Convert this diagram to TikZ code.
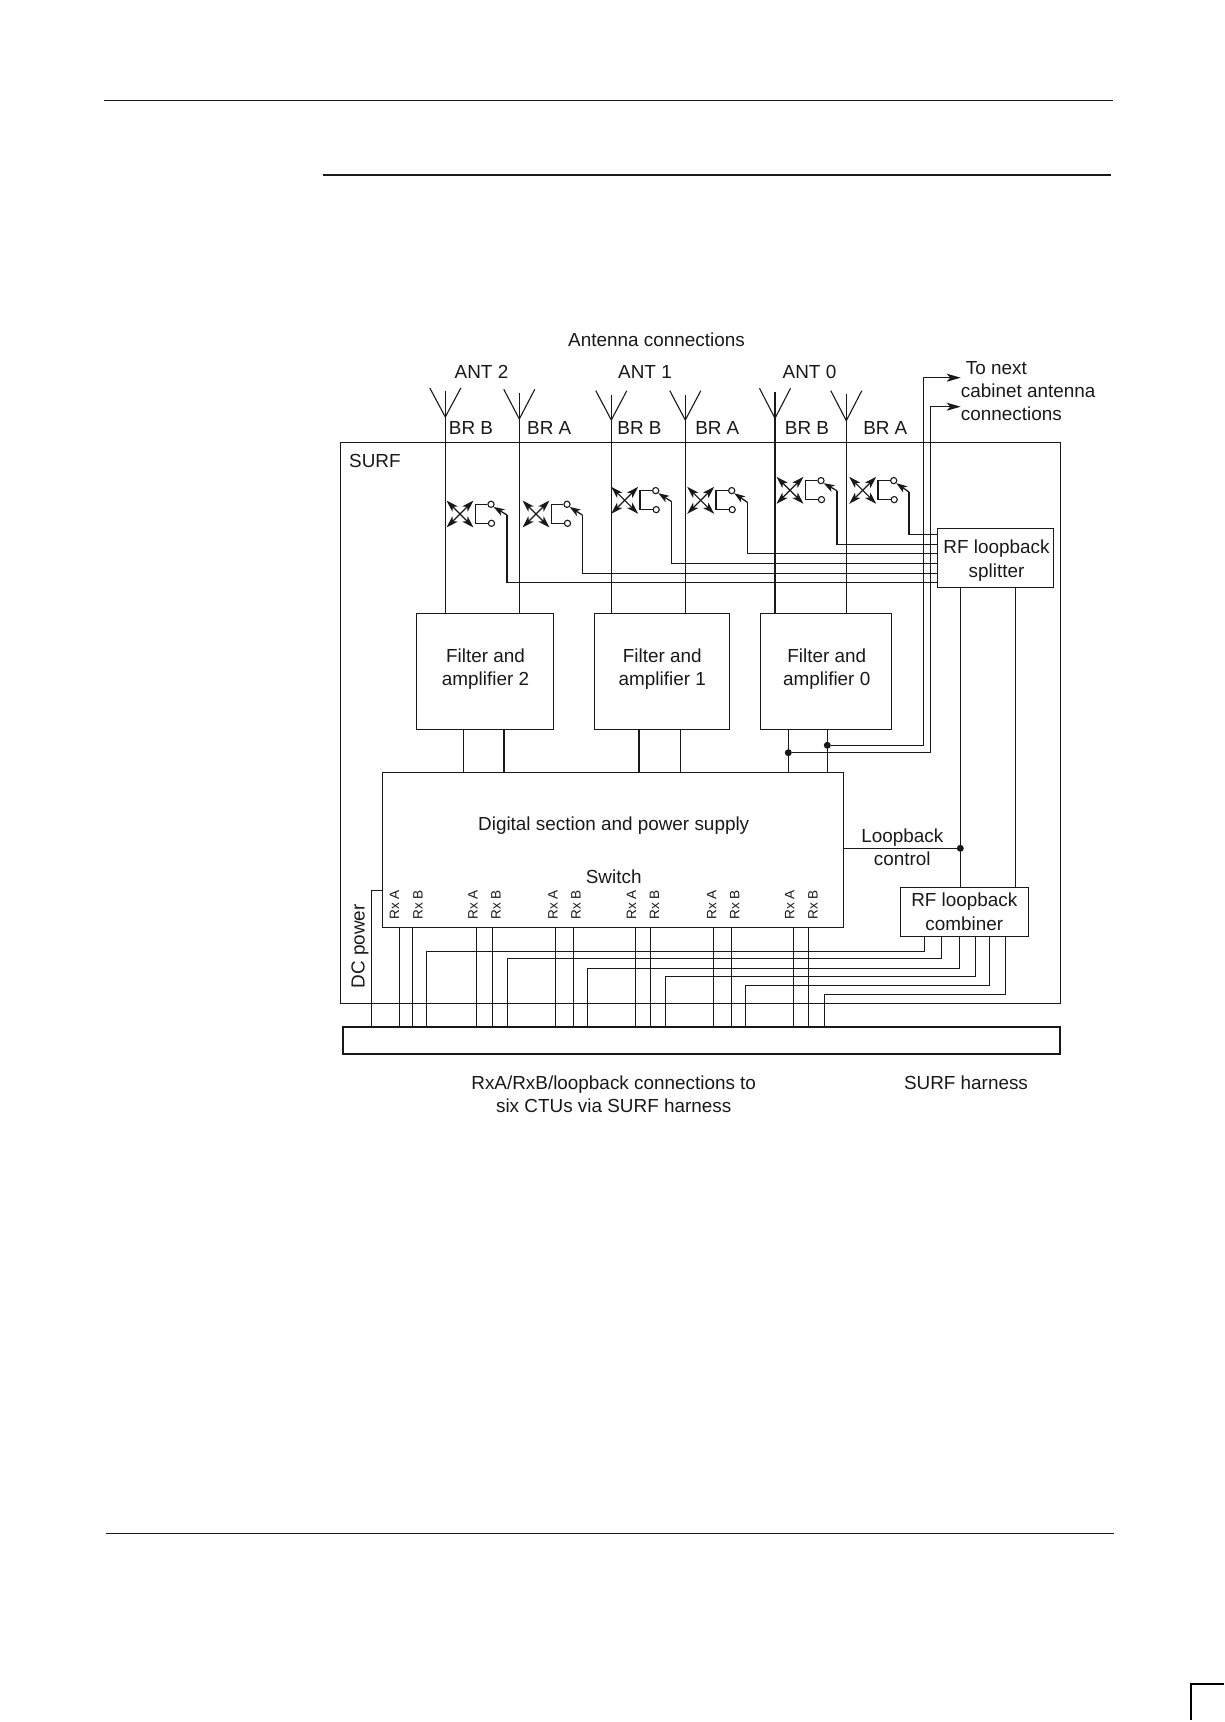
\documentclass[tikz,border=0pt]{standalone}
\usepackage{fontspec}
\setmainfont{Liberation Sans}
\usetikzlibrary{arrows.meta,calc}
\definecolor{ink}{gray}{0.1}
\tikzset{
  x=1pt,y=-1pt,
  every node/.style={text=ink,font=\fontsize{18.9}{23.5}\selectfont},
  wire/.style={draw=ink,line width=1.3pt},
  txt/.style={draw=none,anchor=base,inner sep=0pt,align=center},
  txtl/.style={draw=none,anchor=base west,inner sep=0pt},
  rx/.style={draw=none,rotate=90,anchor=base west,inner sep=0pt,font=\fontsize{13.6}{14}\selectfont},
  block/.style={draw=ink,line width=1.3pt,inner sep=0pt,align=center},
  dotj/.style={circle,fill=ink,draw=none,inner sep=0pt,minimum size=7pt},
  arr/.style={-{Stealth[length=14pt,width=8pt,inset=3.5pt]}},
  xarr/.style={{Stealth[length=12pt,width=7.5pt,inset=3pt]}-{Stealth[length=12pt,width=7.5pt,inset=3pt]},line width=1.2pt},
  swarr/.style={-{Stealth[length=11pt,width=7.5pt,inset=3pt]}},
  contact/.style={circle,draw=ink,fill=white,line width=1.1pt,inner sep=0pt,minimum size=6.2pt},
}
% antenna: tip at (#1,#2), arms top y #3, stem top y #4, block #5
\newcommand{\antenna}[5]{%
  \draw[draw=ink,line width=1.1pt] (#1-15.5,#3) -- (#1,#2) -- (#1+15.5,#3);
  \draw[wire] (#1,#4) -- (#1,0 |- #5.north);
}
% switch: name, cross centre x,y; elbow x,y; line y
\newcommand{\loopsw}[6]{%
  \draw[xarr,draw=ink,fill=ink] (#2-13.5,#3+13.5) -- (#2+13.5,#3-13.5);
  \draw[xarr,draw=ink,fill=ink] (#2-13.5,#3-13.5) -- (#2+13.5,#3+13.5);
  \node[contact] (#1t) at (#2+31,#3-9.7) {};
  \node[contact] (#1b) at (#2+31.5,#3+9.3) {};
  \draw[wire] (#1t.west) -- (#2+15.3,#3-9.7) -- (#2+15.3,#3+9.3) -- (#1b.west);
  \coordinate (#1e) at (#4,#5);
  \draw[wire] (split.west |- 0,#6) -- (#4,#6) -- (#1e);
  \draw[wire,swarr] (#1e) -- (#1t.south east);
}
\begin{document}
\begin{tikzpicture}
\useasboundingbox (0,0) rectangle (1224,1722);
% page furniture
\coordinate (h1a) at (104,100.3); \coordinate (h1b) at (1112.7,100.3);
\coordinate (h2a) at (322.7,175); \coordinate (h2b) at (1111,175);
\coordinate (f1a) at (106,1533.3); \coordinate (f1b) at (1114,1533.3);
\draw[draw=ink,line width=1.1pt] (h1a) -- (h1b);
\draw[draw=ink,line width=2.3pt] (h2a) -- (h2b);
\draw[draw=ink,line width=1.1pt] (f1a) -- (f1b);
\coordinate (c1) at (1224,1684); \coordinate (c2) at (1191,1684); \coordinate (c3) at (1191,1720);
\draw[draw=black,line width=1.7pt] (c1) -- (c2) -- (c3);

% blocks
\node[block,minimum width=719.6pt,minimum height=561pt] (surf) at (700.5,722.8) {};
\node[block,minimum width=136.6pt,minimum height=116pt,
      label={[txt,anchor=center,yshift=2pt,xshift=0.5pt]center:Filter and\\amplifier 2}] (f2) at (485,671.3) {};
\node[block,minimum width=135pt,minimum height=116pt,
      label={[txt,anchor=center,yshift=2pt,xshift=0.5pt]center:Filter and\\amplifier 1}] (f1) at (661.8,671.3) {};
\node[block,minimum width=131pt,minimum height=116pt,
      label={[txt,anchor=center,yshift=2pt,xshift=0.5pt]center:Filter and\\amplifier 0}] (f0) at (826.2,671.3) {};
\node[block,minimum width=461.4pt,minimum height=155pt] (dig) at (613,849.8) {};
\node[block,minimum width=116pt,minimum height=59pt,
      label={[txt,anchor=center,yshift=-3pt,xshift=1.2pt]center:RF loopback\\splitter}] (split) at (995.3,557.8) {};
\node[block,minimum width=128pt,minimum height=49pt] (comb) at (964.3,911.8) {RF loopback\\combiner};
\node[block,line width=2pt,minimum width=717.3pt,minimum height=27pt] (harn) at (701.3,1040.2) {};

% antennas and feeds
\antenna{445.3}{417}{388}{390.7}{f2}
\antenna{519.3}{419}{389.3}{392.7}{f2}
\antenna{611.3}{420}{390.7}{394.7}{f1}
\antenna{685.3}{420}{390.7}{394.7}{f1}
\antenna{775}{418.3}{388.3}{391.7}{f0}
\antenna{846.3}{420.7}{390.7}{394}{f0}

% loopback switches (horizontal lines run to the splitter)
\loopsw{sa}{460}{514}{507}{515}{582.3}
\loopsw{sb}{536}{514}{582.3}{515}{573.3}
\loopsw{sc}{624.7}{500.3}{671.7}{501.7}{563.3}
\loopsw{sd}{700.7}{500.3}{747.3}{502.3}{553.3}
\loopsw{se}{790}{490.3}{837}{490.7}{544.3}
\loopsw{sf}{862.7}{490.3}{909}{492}{534.3}

% filter to digital
\foreach \xx/\ff in {463.3/f2,504/f2,639/f1,680.6/f1}
  \draw[wire] (\xx,0 |- \ff.south) -- (\xx,0 |- dig.north);
\node[dotj] (ja) at (788.3,752.7) {};
\node[dotj] (jb) at (827.3,745.3) {};
\draw[wire] (ja |- f0.south) -- (ja |- dig.north);
\draw[wire] (jb |- f0.south) -- (jb |- dig.north);

% to next cabinet
\coordinate (na) at (960.7,377.7);
\coordinate (nb) at (960.7,406.7);
\draw[wire,arr] (jb) -- (923.3,745.3) -- (923.3,377.7) -- (na);
\draw[wire,arr] (ja) -- (930.3,752.7) -- (930.3,406.7) -- (nb);

% splitter to combiner
\node[dotj] (jc) at (960.3,848.3) {};
\draw[wire] (960.3,0 |- split.south) -- (960.3,0 |- comb.north);
\draw[wire] (1015.3,0 |- split.south) -- (1015.3,0 |- comb.north);
\draw[wire] (dig.east |- jc) -- (jc);

% DC power
\draw[wire] (371.3,0 |- harn.north) -- (371.3,890.3) -- (dig.west |- 0,890.3);

% Rx lines
\foreach \xx in {399.3,412.3,476.3,492.3,555.3,573.3,635.3,650.3,713.3,731.3,793.3,808.3}
  \draw[wire] (\xx,0 |- dig.south) -- (\xx,0 |- harn.north);

% loopback lines from combiner
\foreach \xa/\yy/\xb in {924.3/951.3/426.3,941.3/958.3/507.3,959.3/968.3/587.3,975.3/976.3/665.3,989.3/985.3/745.3,1005.3/994.3/824.3}
  \draw[wire] (\xa,0 |- comb.south) -- (\xa,\yy) -- (\xb,\yy) -- (\xb,0 |- harn.north);

% texts
\node[txt] (t1) at (656.5,346.8) {Antenna connections};
\node[txt] (t2) at (481.5,378.8) {ANT 2};
\node[txt] (t3) at (645,378.8) {ANT 1};
\node[txt] (t4) at (809.5,378.8) {ANT 0};
\foreach \xx/\ss [count=\i] in {471/BR B,549.3/BR A,639.5/BR B,717.3/BR A,807/BR B,885.3/BR A}
  \node[txt] (br\i) at (\xx,434.8) {\ss};
\node[txtl] (t5) at (349,467.8) {SURF};
\node[txtl] (t6) at (965.7,374.8) {To next};
\node[txtl] (t7) at (960.7,397.8) {cabinet antenna};
\node[txtl] (t8) at (960.7,420.8) {connections};
\node[txt] (t9) at (613.7,830) {Digital section and power supply};
\node[txt] (t10) at (613.7,883) {Switch};
\node[txt] (t11) at (902.3,842.8) {Loopback};
\node[txt] (t12) at (902.3,865.3) {control};
\node[txt] (t13) at (613.7,1089.5) {RxA/RxB/loopback connections to};
\node[txt] (t14) at (613.7,1112.5) {six CTUs via SURF harness};
\node[txt] (t15) at (966,1089.5) {SURF harness};
\node[draw=none,rotate=90,anchor=base,inner sep=0pt] (t16) at (364.5,946.5) {DC power};
\foreach \xx/\ss [count=\i] in {399/Rx A,422.7/Rx B,477.7/Rx A,500.7/Rx B,557.7/Rx A,580.7/Rx B,636/Rx A,659/Rx B,716.3/Rx A,739.3/Rx B,794.3/Rx A,817.7/Rx B}
  \node[rx] (rx\i) at (\xx,920) {\ss};
\end{tikzpicture}
\end{document}
